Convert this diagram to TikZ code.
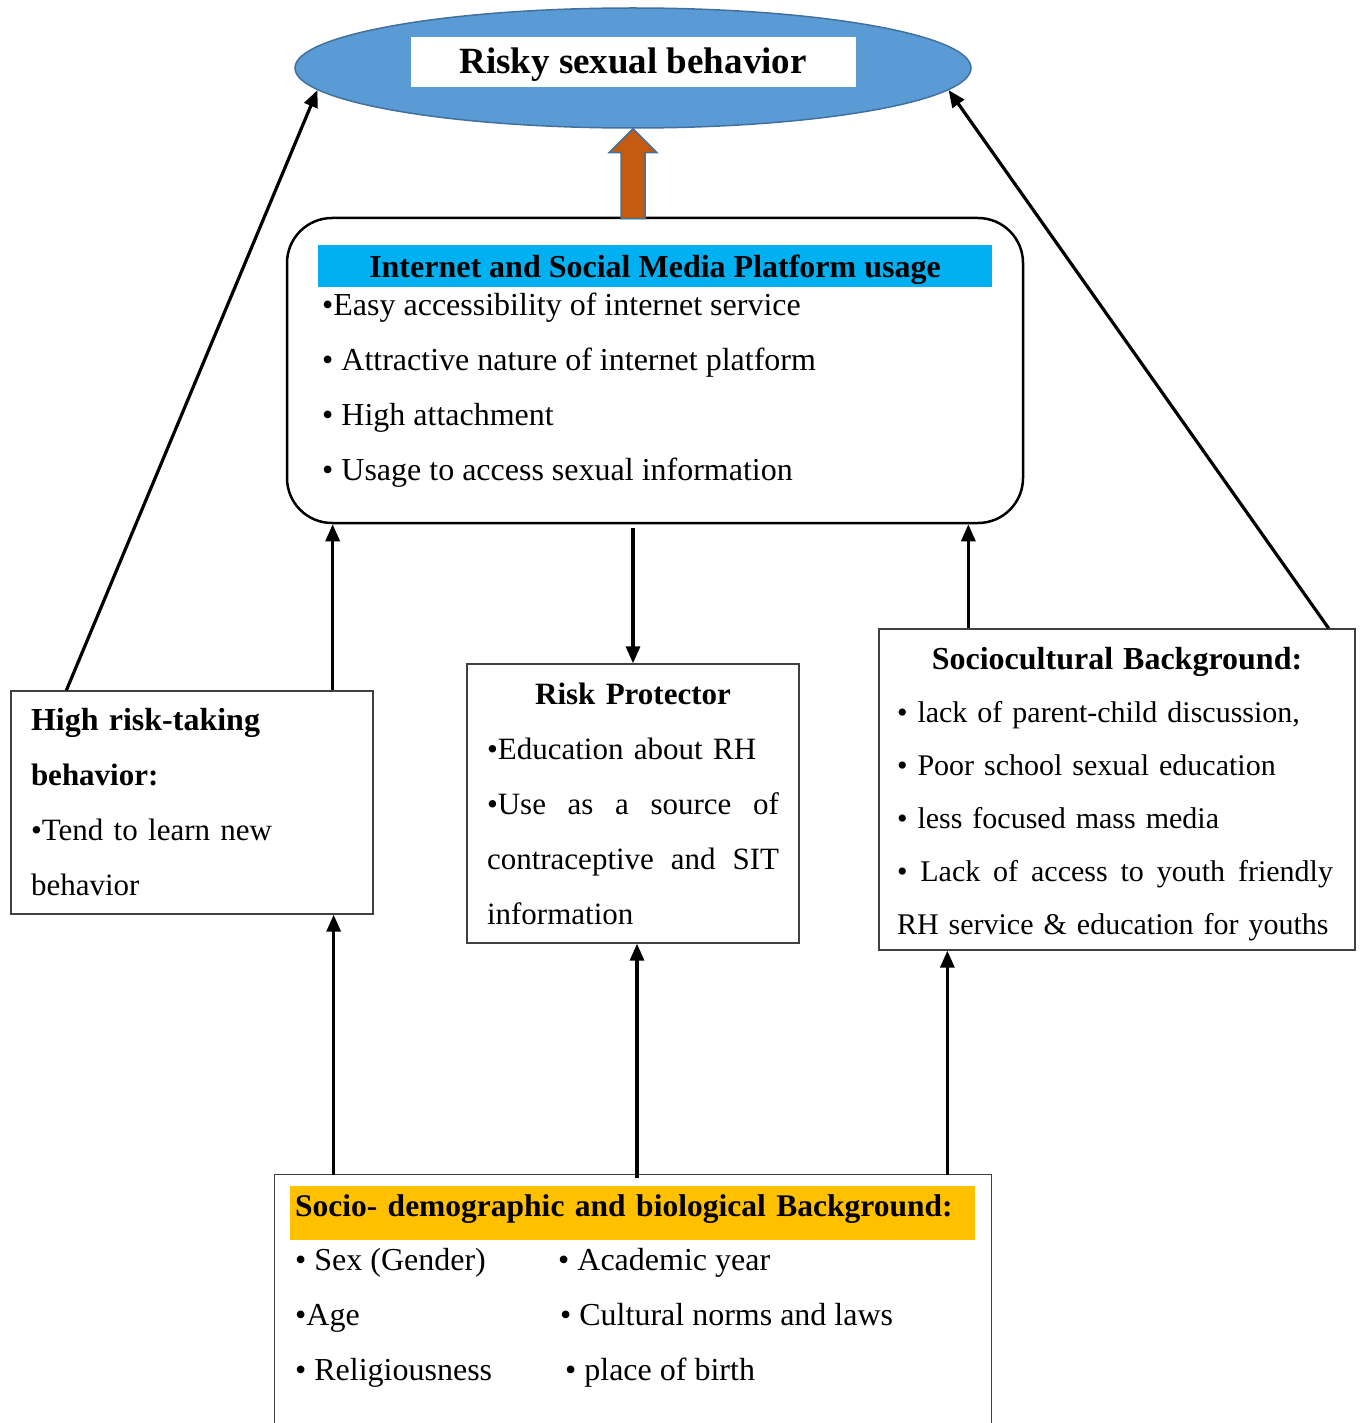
\documentclass[tikz,border=0pt]{standalone}
\usepackage{fontspec}
\setmainfont{Liberation Serif}
\usetikzlibrary{arrows.meta,shapes.geometric,positioning,calc}
\definecolor{ovalblue}{HTML}{5B9BD5}
\definecolor{ovalline}{HTML}{41719C}
\definecolor{arrorange}{HTML}{C55A11}
\definecolor{barcyan}{HTML}{00B0F0}
\definecolor{baryellow}{HTML}{FFC000}
\newcommand{\bodytxt}{\fontsize{31}{55}\selectfont}
\newcommand{\listtxt}{\fontsize{32}{55}\selectfont}
\tikzset{
    oval/.style={
        ellipse,
        draw=ovalline,
        fill=ovalblue,
        line width=1.5pt,
        minimum width=676pt,
        minimum height=120pt,
        inner sep=0pt,
    },
    titlebox/.style={
        rectangle,
        fill=white,
        minimum width=445pt,
        minimum height=50pt,
        text height=31pt,
        text depth=8pt,
        font=\fontsize{37}{44}\selectfont\bfseries,
    },
    platform/.style={
        rectangle,
        rounded corners=45pt,
        draw=black,
        line width=2.5pt,
        minimum width=736pt,
        minimum height=305pt,
    },
    hbar/.style={
        rectangle,
        inner xsep=5pt,
        inner ysep=0pt,
        font=\fontsize{32}{38}\selectfont\bfseries,
    },
    factor/.style={
        rectangle,
        draw=black!75,
        line width=1.3pt,
        inner xsep=20pt,
        inner ysep=0pt,
        align=left,
        font=\bodytxt,
    },
    items/.style={
        inner sep=0pt,
        align=left,
        anchor=north west,
        font=\listtxt,
    },
    link/.style={
        -{Triangle[length=17pt,width=14pt]},
        line width=3.2pt,
    },
}

\begin{document}
\begin{tikzpicture}[x=1pt,y=-1pt]
    \useasboundingbox (0,0) rectangle (1361,1423);

    % outcome
    \node [oval] (rsb) at (633,68) {};
    \node [titlebox] (rsbt) at (633,62) {Risky sexual behavior};

    % internet and social media
    \node [platform] (isp) at (655,370.5) {};
    \node [hbar,fill=barcyan,minimum width=674pt,text height=32pt,text depth=10pt] (isph) at (655,266) {Internet and Social Media Platform usage};
    \node [items] (ispl) at (322,293) {•Easy accessibility of internet service\\
        • Attractive nature of internet platform\\
        • High attachment\\
        • Usage to access sexual information};

    \draw [fill=arrorange,draw=ovalline,line width=1.5pt]
        ($(rsb.south)+(-12,90)$) -- ($(rsb.south)+(-12,24)$) -- ($(rsb.south)+(-24,24)$)
        -- (rsb.south) -- ($(rsb.south)+(24,24)$) -- ($(rsb.south)+(12,24)$)
        -- ($(rsb.south)+(12,90)$) -- cycle;

    % middle row
    \node [factor,text width=322pt,minimum height=223pt] (hrt) at (192,802.5) {{\fontsize{32}{55}\selectfont\bfseries High risk-taking}\\
        \textbf{behavior:}\\
        •Tend to learn new\\
        behavior};
    \node [factor,text width=292pt,minimum height=279pt] (rp) at (633,803.5) {\makebox[\hsize]{\textbf{Risk Protector}}\\
        •Education about RH\\
        \makebox[\hsize][s]{•Use\hfill as\hfill a\hfill source\hfill of}\\
        \makebox[\hsize][s]{contraceptive\hfill and\hfill SIT}\\
        information};
    \node [factor,text width=440pt,inner xsep=18pt,minimum height=321pt,font=\fontsize{30}{53}\selectfont] (scb) at (1117,789.5) {\rule{0pt}{32pt}\makebox[\hsize]{\fontsize{32}{53}\selectfont\bfseries Sociocultural Background:}\\
        \mbox{• lack of parent-child discussion,}\\
        \mbox{• Poor school sexual education}\\
        \mbox{• less focused mass media}\\
        \makebox[436pt][s]{•\hfill Lack\hfill of\hfill access\hfill to\hfill youth\hfill friendly}\\
        \mbox{RH service \& education for youths}};

    % socio-demographic background
    \node [minimum width=716pt,minimum height=248pt,inner sep=0pt] (sdb) at (633,1299) {};
    \draw [draw=black!75,line width=1.3pt] (sdb.south west) -- (sdb.north west) -- (sdb.north east) -- (sdb.south east);
    \node [hbar,fill=baryellow,minimum width=685pt,text width=675pt,align=left,text height=30pt,text depth=24pt,font=\fontsize{31.5}{38}\selectfont\bfseries] (sdbh) at (632.5,1213) {Socio- demographic and biological Background:};
    \node [items] (sdbl) at (295,1248) {• Sex (Gender)\\
        •Age\\
        • Religiousness};
    \node [items] (sdbr) at (558,1248) {• Academic year\\
        \hspace*{2pt}• Cultural norms and laws\\
        \hspace*{7pt}• place of birth};

    \coordinate (d1) at ($(hrt.south east)+(-40,0)$);
    \coordinate (d2) at ($(rp.south)+(4,0)$);
    \coordinate (d3) at ($(scb.south west)+(69,0)$);

    % connectors
    \draw [link] ($(hrt.north west)+(56,0)$) -- (rsb.184);
    \draw [link] ($(hrt.north east)+(-41,0)$) coordinate (h2) -- (h2 |- isp.south);
    \draw [link,shorten <=4pt] (rp.north |- isp.south) -- (rp.north);
    \draw [link] ($(scb.north west)+(90,0)$) coordinate (s1) -- (s1 |- isp.south);
    \draw [link] ($(scb.north east)+(-27,0)$) -- (rsb.356);
    \draw [link] (d1 |- sdb.north) -- (d1);
    \draw [link,shorten <=-3pt] (d2 |- sdb.north) -- (d2);
    \draw [link] (d3 |- sdb.north) -- (d3);
\end{tikzpicture}
\end{document}
